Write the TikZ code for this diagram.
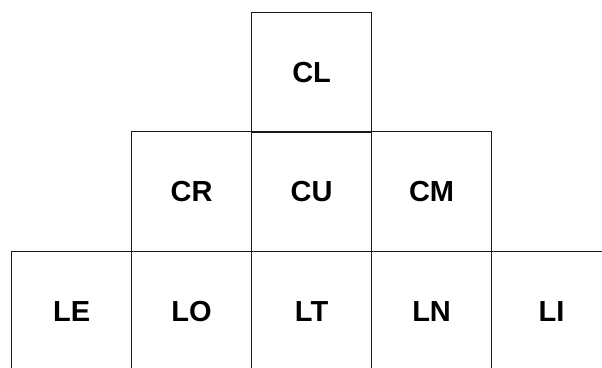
\documentclass[tikz,border=0pt]{standalone}
\usepackage{fontspec}
\setmainfont{Liberation Sans}
\begin{document}
\begin{tikzpicture}[x=1pt,y=-1pt,
  cell/.style={draw=black!90, line width=1.2pt, minimum width=120pt, minimum height=120pt,
    inner sep=0pt, font=\fontsize{29}{33}\selectfont\bfseries, anchor=north west}]
\useasboundingbox (0,0) rectangle (602,367);
\clip (0,0) rectangle (602,367);
\fill[white] (0,0) rectangle (602,367);
\node[cell] (CL) at (251,12) {CL};
\node[cell] (CR) at (131,131) {CR};
\node[cell] (CU) at (251,131) {CU};
\node[cell] (CM) at (371,131) {CM};
\node[cell] (LE) at (11,251) {LE};
\node[cell] (LO) at (131,251) {LO};
\node[cell] (LT) at (251,251) {LT};
\node[cell] (LN) at (371,251) {LN};
\node[cell] (LI) at (491,251) {LI};
\end{tikzpicture}
\end{document}
